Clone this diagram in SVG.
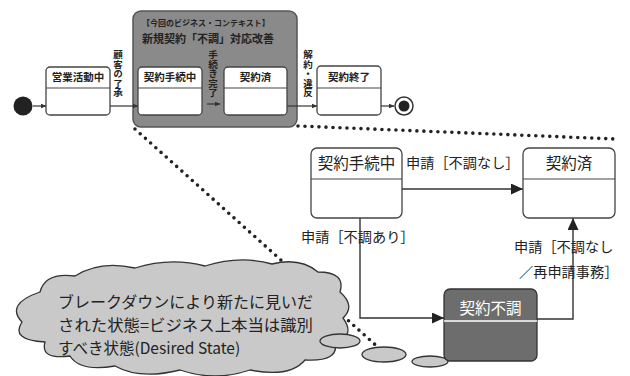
<svg xmlns="http://www.w3.org/2000/svg" width="630" height="376" viewBox="0 0 630 376">
<defs>
<style>
text{font-family:"Noto Sans CJK JP","Noto Sans",sans-serif;fill:#222}
.st{fill:#fff;stroke:#444;stroke-width:1.3}
.dv{stroke:#444;stroke-width:1.2;fill:none}
.sm{font-size:10.5px;font-weight:bold;text-anchor:middle}
.vt{font-size:9.5px;font-weight:bold;writing-mode:vertical-rl}
.ln{stroke:#333;stroke-width:1.2;fill:none}
.ln2{stroke:#333;stroke-width:1.4;fill:none}
.big{font-size:15.5px;text-anchor:middle}
.lb{font-size:14.2px}
.dot{stroke:#222;stroke-width:3.6;stroke-linecap:round;stroke-dasharray:0 7;fill:none}
.cl{fill:#c9c9c9;stroke:#333;stroke-width:1.3}
.ct{font-size:15.5px}
</style>
<marker id="sa" markerWidth="6" markerHeight="6" refX="5.5" refY="3" orient="auto" markerUnits="userSpaceOnUse"><path d="M0,0.5 L6,3 L0,5.5 Z" fill="#333"/></marker>
<marker id="ba" markerWidth="12" markerHeight="11" refX="12" refY="5.5" orient="auto" markerUnits="userSpaceOnUse"><path d="M0,0 L12,5.5 L0,11 Z" fill="#222"/></marker>
</defs>

<g id="dotted-links">
<path class="dot" d="M135,129 L380,349"/>
<path class="dot" d="M298,126 L615,139"/>
</g>

<g id="context">
<rect x="133" y="11" width="164" height="116" rx="8" fill="#8a8a8a" stroke="#555" stroke-width="1.5"/>
<text x="142" y="26" font-size="8" font-weight="bold">【今回のビジネス・コンテキスト】</text>
<text x="142" y="43" font-size="11" font-weight="bold">新規契約「不調」対応改善</text>
</g>

<g id="connectors">
<path class="ln" d="M33,106 H46" marker-end="url(#sa)"/>
<path class="ln" d="M110,106 H138" marker-end="url(#sa)"/>
<path class="ln" d="M207,104 H220" marker-end="url(#sa)"/>
<path class="ln" d="M287,106 H317" marker-end="url(#sa)"/>
<path class="ln" d="M381,106 H394" marker-end="url(#sa)"/>
<text class="vt" x="118" y="50">顧客の了承</text>
<text class="vt" x="213" y="50">手続き完了</text>
<text class="vt" x="308" y="50">解約・違反</text>

<path class="ln2" d="M402,189 H523" marker-end="url(#ba)"/>
<path class="ln2" d="M360,218 V318 H444" marker-end="url(#ba)"/>
<path class="ln2" d="M537,319 H573 V218" marker-end="url(#ba)"/>
<text class="lb" x="406" y="168">申請［不調なし］</text>
<text class="lb" x="301" y="242">申請［不調あり］</text>
<text class="lb" x="514" y="252">申請［不調なし</text>
<text class="lb" x="519" y="277">／再申請事務］</text>
</g>

<g id="initial"><circle cx="23" cy="106" r="9.5" fill="#222"/></g>

<g id="eigyo">
<rect class="st" x="46" y="67" width="64" height="48" rx="4"/>
<path class="dv" d="M46,88 H110"/>
<text class="sm" x="78" y="81">営業活動中</text>
</g>

<g id="tetsuzuki-small">
<rect class="st" x="138" y="67" width="64" height="48" rx="4"/>
<path class="dv" d="M138,88 H202"/>
<text class="sm" x="170" y="81">契約手続中</text>
</g>

<g id="keiyakuzumi-small">
<rect class="st" x="224" y="67" width="63" height="48" rx="4"/>
<path class="dv" d="M224,88 H287"/>
<text class="sm" x="255.5" y="81">契約済</text>
</g>

<g id="shuryo">
<rect class="st" x="317" y="66" width="64" height="49" rx="4"/>
<path class="dv" d="M317,88 H381"/>
<text class="sm" x="349" y="81">契約終了</text>
</g>

<g id="final">
<circle cx="404" cy="106" r="9" fill="#fff" stroke="#333" stroke-width="1.5"/>
<circle cx="404" cy="106" r="5.5" fill="#222"/>
</g>

<g id="tetsuzuki">
<rect class="st" x="311" y="148" width="91" height="70" rx="6"/>
<path class="dv" d="M311,179 H402"/>
<text class="big" x="356.5" y="169">契約手続中</text>
</g>

<g id="keiyakuzumi">
<rect class="st" x="523" y="148" width="92" height="70" rx="6"/>
<path class="dv" d="M523,179 H615"/>
<text class="big" x="569" y="169">契約済</text>
</g>

<g id="cloud">
<path class="cl" d="M40,292 Q45,272 75,276 Q100,260 135,268 Q170,257 205,266 Q240,255 272,264 Q300,257 318,272 Q346,272 340,292 Q356,306 343,318 Q356,336 335,342 Q340,362 305,360 Q290,378 250,370 Q215,382 180,370 Q140,380 115,366 Q80,372 70,356 Q40,360 45,342 Q10,340 22,322 Q5,304 40,292 Z"/>
<text class="ct" x="58" y="308" textLength="255" lengthAdjust="spacingAndGlyphs">ブレークダウンにより新たに見いだ</text>
<text class="ct" x="58" y="331" textLength="255" lengthAdjust="spacingAndGlyphs">された状態=ビジネス上本当は識別</text>
<text class="ct" x="58" y="354">すべき状態(Desired State)</text>
</g>

<g id="bubbles">
<ellipse class="cl" cx="340" cy="341" rx="20" ry="7"/>
<ellipse class="cl" cx="384" cy="354.5" rx="22" ry="7.5"/>
<ellipse class="cl" cx="430" cy="361.5" rx="18" ry="5.5"/>
</g>

<g id="fucho">
<rect x="444" y="289" width="93" height="72" rx="6" fill="#6d6d6d" stroke="#333" stroke-width="1.3"/>
<path d="M444,321 H537" stroke="#fff" stroke-width="1.4"/>
<text class="big" x="490.5" y="314" style="fill:#fff">契約不調</text>
</g>
</svg>
